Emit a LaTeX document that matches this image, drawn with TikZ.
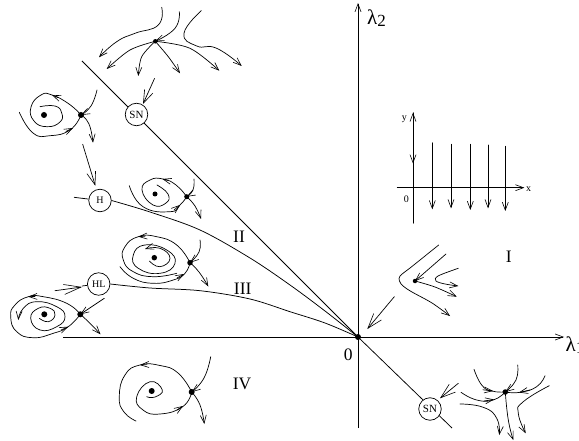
\documentclass[tikz,border=0pt]{standalone}
\usepackage{fontspec}
\setmainfont{Liberation Serif}
\usetikzlibrary{arrows.meta}
\tikzset{
  >={Straight Barb[length=8pt,width=6pt,line width=.6pt]},
  flow/.style={line width=.7pt,line cap=round},
  curvy/.style={smooth,tension=.85},
  gentle/.style={smooth,tension=.55},
  axisline/.style={line width=.8pt},
  param/.style={line width=.75pt},
  bif/.style={draw,circle,fill=white,line width=.7pt,minimum size=22.5pt,inner sep=0pt,font=\fontsize{10}{11}\selectfont},
  saddle/.style={circle,fill=black,inner sep=0pt,minimum size=6pt},
  sink/.style={circle,fill=black,inner sep=0pt,minimum size=6pt},
  region/.style={font=\fontsize{17.5}{18}\selectfont},
  small/.style={font=\fontsize{10}{11}\selectfont},
  bigl/.style={font=\fontsize{21}{22}\selectfont,anchor=base west,inner sep=0pt},
  wide/.style={-{Straight Barb[length=17pt,width=10pt,line width=.6pt]}}
}
\begin{document}
\begin{tikzpicture}[x=1pt,y=-1pt]
\useasboundingbox (0,0) rectangle (579,441);
% axes
\coordinate (O) at (358,337);
\coordinate (xL) at (63,337);
\coordinate (xR) at (564,337);
\coordinate (yT) at (358,3);
\coordinate (yB) at (358,428);
\coordinate (dT) at (82,61);
\coordinate (dB) at (452,428);
\draw[axisline,->] (xL) -- (xR);
\draw[axisline,->] (yB) -- (yT);
\draw[param] (dT) -- (O) -- (dB);
% bifurcation points
\node[bif,font=\fontsize{11}{11}\selectfont] (SNa) at (136.5,114.5) {SN};
\node[bif] (Hb) at (100,200.5) {H};
\node[bif] (HLb) at (98.7,284) {HL};
\node[bif,font=\fontsize{11}{11}\selectfont] (SNb) at (430,409) {SN};
\coordinate (Hs) at (74,197.3);
\coordinate (HLs) at (82,286);
\draw[param] (Hs) -- (Hb);
\draw[param] (HLs) -- (HLb);
\draw[param] plot[gentle] coordinates {(Hb.east) (150,212) (200,230) (250,258) (290,285) (325,311) (O)};
\draw[param] plot[gentle] coordinates {(HLb.east) (150,288) (200,290.7) (250,299) (290,311.7) (325,323) (O)};
\node[circle,fill=black,inner sep=0pt,minimum size=6pt] (Odot) at (O) {};
% labels
\node[region] (lII) at (239,236.5) {II};
\node[region] (lIII) at (242.7,289) {III};
\node[region] (lIV) at (242,383.5) {IV};
\node[region] (lI) at (508.7,256.5) {I};
\node[region] (l0) at (348.3,354.5) {0};
\node[bigl] (l2) at (367,25) {λ\raisebox{-2pt}{\fontsize{17}{17}\selectfont 2}};
\node[bigl] (l1) at (565.5,351.5) {λ\raisebox{-2pt}{\fontsize{17}{17}\selectfont 1}};
% pointer arrows
\coordinate (pa) at (154.5,78.5);
\coordinate (pa2) at (143,104);
\draw[flow,-{Straight Barb[length=13pt,width=9pt,line width=.6pt]}] (pa) -- (pa2);
\coordinate (pb) at (82.7,144.3);
\coordinate (pb2) at (95.3,185.7);
\draw[flow,-{Straight Barb[length=13pt,width=9pt,line width=.6pt]}] (pb) -- (pb2);
\coordinate (pc) at (55,290.7);
\coordinate (pc2) at (82,287);
\draw[flow,wide] (pc) -- (pc2);
\coordinate (pd) at (394.3,296.7);
\coordinate (pd2) at (367.3,329);
\draw[flow,-{Straight Barb[length=15pt,width=10pt,line width=.6pt]}] (pd) -- (pd2);
\coordinate (pe) at (458.3,383.3);
\coordinate (pe2) at (440,398.3);
\draw[flow,-{Straight Barb[length=15pt,width=10pt,line width=.6pt]}] (pe) -- (pe2);
% top saddle-node portrait
\node[saddle,minimum size=4.5pt] (t) at (155.3,41.3) {};
\draw[flow,->] plot[curvy] coordinates {(161.7,7.3) (158.3,25) (135,33.3) (116.7,41.7) (99,57.3)};
\draw[flow,->] plot[curvy] coordinates {(179.3,11.7) (175,28.3) (t)};
\draw[flow,->] plot[curvy] coordinates {(201.3,10.7) (184,33.3) (196.7,46) (216.7,48.3) (241.7,66)};
\draw[flow,->] plot[gentle] coordinates {(t) (130,50) (106.7,69)};
\draw[flow,->] plot[gentle] coordinates {(t) (141.7,56.7) (138.3,76)};
\draw[flow,->] plot[gentle] coordinates {(t) (168.3,56.7) (180,73.3)};
\draw[flow,->] plot[gentle] coordinates {(t) (190,48.3) (219.3,70.7)};
% left portrait
\node[saddle] (a) at (81,115) {};
\node[sink] (af) at (44,115) {};
\draw[flow] plot[curvy] coordinates {(a) (69,104) (52,95) (41,95) (31,107) (34,121) (47,126.7) (60,122) (61.7,113) (55,106) (40,106.7)};
\draw[flow,->] (58,97.5) -- (52,95);
\draw[flow] plot[curvy] coordinates {(19.3,112.3) (33,133) (50,135.7) (70,130) (a)};
\draw[flow,->] (66,131.5) -- (73,128);
\draw[flow,->] plot[curvy] coordinates {(97,90) (91,106) (a)};
\draw[flow,->] plot[curvy] coordinates {(a) (89,124) (93,142.7)};
% H portrait
\node[saddle,minimum size=5pt] (b) at (186.7,196.7) {};
\node[sink,minimum size=5pt] (bf) at (155,194) {};
\draw[flow] plot[curvy] coordinates {(b) (176,185) (163,179) (150,180) (142,190) (153,205) (166,203) (168,194) (157,185)};
\draw[flow,->] (168,180.5) -- (162.5,179);
\draw[flow] plot[curvy] coordinates {(129.3,185.7) (143,206.7) (170,211.7) (180,205) (b)};
\draw[flow,->] (174,210) -- (180,205);
\draw[flow,->] plot[curvy] coordinates {(194,179) (193,190) (b)};
\draw[flow,->] plot[curvy] coordinates {(b) (195,206) (201,219)};
% III portrait
\node[saddle,minimum size=5.5pt] (c) at (190,262.7) {};
\node[sink,minimum size=5.5pt] (cf) at (154.3,257.7) {};
\draw[flow] plot[curvy] coordinates {(c) (176.7,245) (156.7,236.7) (138.3,236.7) (125,246.7) (123.3,260) (133.3,271.7) (153.3,276.7) (176.7,273.3)};
\draw[flow,->] (145,236.2) -- (138.3,236.7);
\draw[flow] plot[curvy] coordinates {(120,266.7) (133.3,278.3) (153.3,283.3) (173.3,280) (185,273.3) (c)};
\draw[flow,->] (177,278) -- (184,274);
\draw[flow] plot[smooth cycle,tension=.85] coordinates {(145,245) (133.3,255) (138.3,268.3) (160,273.3) (175,263.3) (166.7,250)};
\draw[flow,->] plot[curvy] coordinates {(149.3,261) (160,266.7) (170,258.3) (160,248.3) (145,249)};
\draw[flow,->] plot[curvy] coordinates {(200,240) (199,252) (c)};
\draw[flow,->] plot[curvy] coordinates {(c) (199,272) (208.3,286.5)};
% HL portrait
\node[saddle,minimum size=6pt] (d) at (80.3,314.3) {};
\node[sink,minimum size=6pt] (df) at (44.3,314.3) {};
\draw[flow] plot[curvy] coordinates {(d) (66.7,303.3) (43.3,296.7) (28.3,296.7) (15,305) (10.7,316.7) (16.7,331.7) (33.3,337.7) (53.3,333.3) (68.3,326.7) (d)};
\draw[flow,->] (35,296.5) -- (28.3,296.7);
\draw[flow,->] (61,330) -- (68.3,326.7);
\draw[flow,->] plot[curvy] coordinates {(39.3,318.3) (48.3,321.7) (55,315) (50,308.3) (38.3,308.3) (30.7,318.3) (40,330) (56.7,326.7) (65,316.7) (56.7,306.7) (36.7,301.7) (23.3,308.3) (18.3,320)};
\draw[flow,->] plot[curvy] coordinates {(104.3,298.3) (d)};
\draw[flow,->] plot[curvy] coordinates {(d) (90,323.3) (100.5,334.3)};
% IV portrait
\node[saddle,minimum size=6pt] (e) at (191.7,392) {};
\node[sink,minimum size=6pt] (ef) at (151.7,391) {};
\draw[flow] plot[curvy] coordinates {(e) (178,373) (160,365.5) (140,365) (125,375) (119.3,396.7) (124,412) (136,421)};
\draw[flow,->] (147,364.6) -- (140,365);
\draw[flow] plot[curvy] coordinates {(e) (182.7,406.7) (160,414) (143,410) (136.7,396.7) (150,381.7) (162.3,390) (155,397) (146.7,396.7)};
\draw[flow,->] (177,410) -- (183,406);
\draw[flow,->] plot[curvy] coordinates {(210.7,356.7) (204,378) (e)};
\draw[flow,->] plot[curvy] coordinates {(e) (200,405) (204.3,424)};
% inset
\coordinate (iyT) at (413,112.7);
\coordinate (iyB) at (413,223.3);
\coordinate (iyM) at (413,163.5);
\coordinate (ixL) at (397.3,187.7);
\coordinate (ixR) at (524.3,187.7);
\draw[flow,->] (iyB) -- (iyT);
\draw[flow,->] (iyT) -- (iyM);
\draw[flow,->] (ixL) -- (ixR);
\node[small] (ix) at (528.5,189) {x};
\node[small] (iy) at (404.3,119.5) {y};
\node[small] (i0) at (406.3,199) {0};
\foreach \xx/\ya/\yb in {432.3/142.7/209.3,451/144.3/208.3,470.3/144.3/210,488/145/208.3,505.3/146.3/211}{
  \draw[flow,->] (\xx,\ya) -- (\xx,\yb);
}
% region I portrait
\node[sink,minimum size=4.5pt] (f) at (415,281) {};
\draw[flow,->] plot[gentle] coordinates {(438.7,245) (425,256) (410,268) (400,276) (399.5,281) (403,286) (412,292) (432,303) (450,316)};
\draw[flow,->] plot[curvy] coordinates {(446,254) (f)};
\draw[flow,->] plot[gentle] coordinates {(f) (435,287) (456.7,296.7)};
\draw[flow,->] plot[gentle] coordinates {(458.3,268.3) (438,276) (436,281) (445,284) (458.3,286)};
% lower saddle-node portrait
\node[saddle,minimum size=5.5pt] (g) at (505.3,392) {};
\draw[flow] plot[curvy] coordinates {(474,369.3) (481.7,385) (491.7,391) (g)};
\draw[flow,->] (483,389.8) -- (493,391);
\draw[flow] plot[curvy] coordinates {(545,375.7) (536.7,386.7) (520,392.3) (g)};
\draw[flow,->] (530,390) -- (519,392.5);
\draw[flow,->] plot[curvy] coordinates {(517.7,365) (516,380) (g)};
\draw[flow] plot[curvy] coordinates {(461,392.3) (476.7,400) (493.3,400) (g)};
\draw[flow,->] (484,401) -- (494,399.5);
\draw[flow,->] plot[curvy] coordinates {(460,404) (483.3,407.3) (496.7,418.3) (499.3,435)};
\draw[flow,->] plot[curvy] coordinates {(g) (508.3,420) (513.3,440)};
\draw[flow,->] plot[curvy] coordinates {(549.3,385.7) (523.3,401.7) (518.3,413.3) (525.7,433.3)};
\end{tikzpicture}
\end{document}
